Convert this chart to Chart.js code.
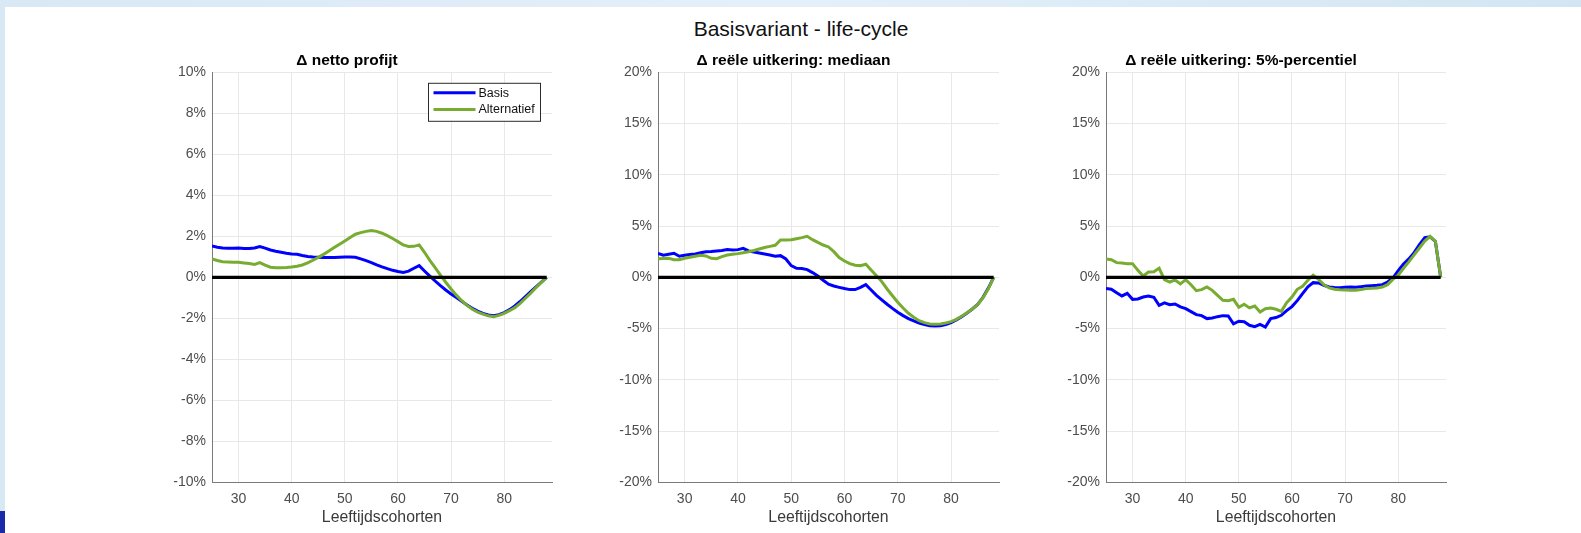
<!DOCTYPE html>
<html>
<head>
<meta charset="utf-8">
<script src="https://cdn.jsdelivr.net/npm/chart.js@4.4.1/dist/chart.umd.min.js"></script>
<style>
body { margin: 0; width: 1581px; height: 533px; background: #fff; position: relative; overflow: hidden; font-family: "Liberation Sans", Arial, sans-serif; }
#topband { position: absolute; left: 0; top: 0; width: 1581px; height: 7px; background: linear-gradient(90deg, #d9e8f5, #e4f0f9 50%, #d3e5f3); }
#leftband { position: absolute; left: 0; top: 0; width: 5px; height: 511px; background: #d9e8f5; }
#leftdark { position: absolute; left: 0; top: 511px; width: 5px; height: 22px; background: #1a2aa8; }
#title { position: absolute; left: 0; width: 1602px; top: 17px; line-height: 24px; text-align: center; font-size: 21px; color: #111; }
canvas { position: absolute; top: 0; }
</style>
</head>
<body>
<div id="topband"></div>
<div id="leftband"></div>
<div id="leftdark"></div>
<div id="title">Basisvariant - life-cycle</div>
<canvas id="c1"></canvas>
<canvas id="c2"></canvas>
<canvas id="c3"></canvas>
<script>
const ages = [25, 26, 27, 28, 29, 30, 31, 32, 33, 34, 35, 36, 37, 38, 39, 40, 41, 42, 43, 44,
  45, 46, 47, 48, 49, 50, 51, 52, 53, 54, 55, 56, 57, 58, 59, 60, 61, 62, 63, 64,
  65, 66, 67, 68, 69, 70, 71, 72, 73, 74, 75, 76, 77, 78, 79, 80, 81, 82, 83, 84,
  85, 86, 87, 88];

// netto profijt (%)
const profijtBasis = [1.53, 1.47, 1.43, 1.42, 1.42, 1.43, 1.40, 1.41, 1.43, 1.50, 1.42, 1.33, 1.27, 1.22, 1.17, 1.14, 1.12, 1.06, 1.01, 0.99,
  0.98, 0.97, 0.97, 0.97, 0.98, 0.99, 0.99, 0.98, 0.90, 0.81, 0.72, 0.61, 0.51, 0.42, 0.34, 0.28, 0.24, 0.30, 0.44, 0.57,
  0.31, 0.06, -0.18, -0.41, -0.62, -0.81, -0.99, -1.17, -1.35, -1.51, -1.65, -1.76, -1.84, -1.87, -1.82, -1.72, -1.58, -1.40, -1.18, -0.94,
  -0.70, -0.46, -0.23, 0];
const profijtAlt = [0.89, 0.82, 0.76, 0.75, 0.74, 0.73, 0.70, 0.67, 0.63, 0.72, 0.59, 0.49, 0.47, 0.47, 0.48, 0.50, 0.54, 0.60, 0.70, 0.83,
  0.97, 1.12, 1.28, 1.45, 1.61, 1.77, 1.94, 2.10, 2.18, 2.24, 2.28, 2.24, 2.15, 2.03, 1.89, 1.74, 1.58, 1.50, 1.51, 1.58,
  1.22, 0.83, 0.47, 0.11, -0.24, -0.57, -0.87, -1.14, -1.37, -1.56, -1.70, -1.80, -1.88, -1.92, -1.86, -1.76, -1.63, -1.48, -1.27, -1.02,
  -0.77, -0.50, -0.25, 0];

// reele uitkering mediaan (%)
const mediaanBasis = [2.34, 2.15, 2.24, 2.34, 2.05, 2.15, 2.22, 2.28, 2.40, 2.50, 2.52, 2.57, 2.62, 2.70, 2.66, 2.70, 2.83, 2.57, 2.47, 2.37,
  2.28, 2.18, 2.05, 2.11, 1.79, 1.14, 0.88, 0.85, 0.75, 0.46, 0.13, -0.29, -0.68, -0.85, -0.98, -1.10, -1.20, -1.20, -0.98, -0.72,
  -1.24, -1.76, -2.20, -2.63, -3.03, -3.41, -3.74, -4.03, -4.26, -4.46, -4.61, -4.72, -4.75, -4.72, -4.60, -4.42, -4.15, -3.84, -3.48, -3.09,
  -2.65, -1.95, -1.05, 0];
const mediaanAlt = [1.82, 1.84, 1.85, 1.72, 1.72, 1.85, 1.95, 2.05, 2.15, 2.08, 1.85, 1.82, 2.02, 2.18, 2.25, 2.31, 2.40, 2.50, 2.62, 2.76,
  2.90, 3.02, 3.12, 3.64, 3.65, 3.67, 3.77, 3.87, 4.00, 3.67, 3.40, 3.15, 2.96, 2.50, 1.92, 1.59, 1.33, 1.17, 1.14, 1.27,
  0.72, 0.16, -0.42, -1.14, -1.80, -2.44, -3.00, -3.51, -3.90, -4.23, -4.42, -4.55, -4.58, -4.55, -4.46, -4.33, -4.10, -3.80, -3.46, -3.09,
  -2.65, -2.00, -1.12, 0];

// reele uitkering 5%-percentiel (%)
const p5Basis = [-1.10, -1.17, -1.50, -1.82, -1.56, -2.15, -2.11, -1.92, -1.82, -1.95, -2.73, -2.50, -2.67, -2.60, -2.89, -3.06, -3.35, -3.64, -3.74, -4.03,
  -3.97, -3.84, -3.74, -3.77, -4.55, -4.29, -4.33, -4.68, -4.81, -4.59, -4.85, -4.03, -3.93, -3.71, -3.25, -2.86, -2.28, -1.59, -0.94, -0.52,
  -0.55, -0.78, -0.94, -1.00, -1.02, -0.98, -0.95, -0.98, -0.92, -0.85, -0.82, -0.78, -0.72, -0.46, -0.07, 0.65, 1.30, 1.79, 2.41, 3.20,
  3.87, 3.95, 3.50, 0];
const p5Alt = [1.79, 1.72, 1.43, 1.40, 1.33, 1.33, 0.68, 0.13, 0.52, 0.55, 0.88, -0.23, -0.46, -0.26, -0.65, -0.23, -0.72, -1.30, -1.20, -0.94,
  -1.27, -1.76, -2.24, -2.28, -2.15, -2.93, -2.63, -2.99, -2.80, -3.38, -3.06, -2.99, -3.12, -3.32, -2.47, -1.92, -1.17, -0.88, -0.29, 0.20,
  -0.20, -0.72, -1.04, -1.17, -1.22, -1.24, -1.26, -1.27, -1.20, -1.10, -1.08, -1.04, -0.95, -0.72, -0.20, 0.20, 0.88, 1.50, 2.18, 2.86,
  3.54, 4.00, 3.51, 0];

const zeroX = [25, 88];
const xTicks = [30, 40, 50, 60, 70, 80];
const yTicksProfijt = [-10, -8, -6, -4, -2, 0, 2, 4, 6, 8, 10];
const yTicksUitkering = [-20, -15, -10, -5, 0, 5, 10, 15, 20];

const BLUE = '#0000ff';
const GREEN = '#77ac30';
const FONT = '"Liberation Sans", Arial, sans-serif';

const PLOT_TOP = 72.3;
const PLOT_BOTTOM = 482.3;
const H = 533;
const YAXIS_W = 70;
const PAD_R = 12;

// legend box like the matlab one, top right inside the plot
const boxLegend = {
  id: 'boxLegend',
  afterDatasetsDraw(chart, args, opts) {
    if (!opts.show) return;
    const ctx = chart.ctx;
    const area = chart.chartArea;
    const w = 112, h = 38;
    const x = area.right - 12 - w;
    const y = area.top + 10.5;
    ctx.save();
    ctx.fillStyle = '#fff';
    ctx.fillRect(x, y, w, h);
    ctx.strokeStyle = '#2b2b2b';
    ctx.lineWidth = 1;
    ctx.strokeRect(x + 0.5, y + 0.5, w, h);
    const items = [chart.data.datasets[2], chart.data.datasets[1]];
    items.forEach((ds, i) => {
      const ly = y + 10 + i * 16.6;
      ctx.strokeStyle = ds.borderColor;
      ctx.lineWidth = 3;
      ctx.beginPath();
      ctx.moveTo(x + 5.5, ly);
      ctx.lineTo(x + 47.5, ly);
      ctx.stroke();
      ctx.fillStyle = '#111';
      ctx.font = '12.5px ' + FONT;
      ctx.textBaseline = 'middle';
      ctx.fillText(ds.label, x + 50.5, ly + 0.5);
    });
    ctx.restore();
  }
};

function pts(xs, ys) {
  return xs.map((a, i) => ({ x: a, y: ys[i] }));
}

function makePanel(id, plotLeft, plotWidth, title, basis, alt, yTicks, showLegend) {
  const canvas = document.getElementById(id);
  const cw = YAXIS_W + plotWidth + PAD_R;
  canvas.width = cw;
  canvas.height = H;
  canvas.style.left = (plotLeft - YAXIS_W) + 'px';
  canvas.style.width = cw + 'px';
  canvas.style.height = H + 'px';

  new Chart(canvas.getContext('2d'), {
    type: 'line',
    data: {
      datasets: [
        { label: 'nul', data: pts(zeroX, [0, 0]), borderColor: '#000', borderWidth: 3.2, pointRadius: 0, fill: false },
        { label: 'Alternatief', data: pts(ages, alt), borderColor: GREEN, borderWidth: 3, pointRadius: 0, tension: 0, fill: false },
        { label: 'Basis', data: pts(ages, basis), borderColor: BLUE, borderWidth: 3, pointRadius: 0, tension: 0, fill: false }
      ]
    },
    options: {
      responsive: false,
      animation: false,
      devicePixelRatio: 1,
      layout: { padding: { left: 0, right: PAD_R, top: 0, bottom: 0 } },
      plugins: {
        legend: { display: false },
        tooltip: { enabled: false },
        title: {
          display: true,
          text: '\u0394 ' + title,
          color: '#000',
          font: { family: FONT, size: 15.5, weight: 'bold', lineHeight: 1.2 },
          padding: { top: 51, bottom: PLOT_TOP - 51 - 18.6 }
        },
        boxLegend: { show: showLegend }
      },
      scales: {
        x: {
          type: 'linear',
          min: 25,
          max: 89,
          afterBuildTicks: s => { s.ticks = xTicks.map(v => ({ value: v })); },
          afterFit: s => { s.height = H - PLOT_BOTTOM; },
          grid: { color: '#e8e8e8', lineWidth: 1, drawTicks: false },
          border: { color: '#7a7a7a', width: 1 },
          ticks: { color: '#4d4d4d', padding: 8.5, font: { family: FONT, size: 14 } },
          title: {
            display: true,
            text: 'Leeftijdscohorten',
            color: '#3a3a3a',
            font: { family: FONT, size: 15.8, lineHeight: 1.2 },
            padding: { top: 0, bottom: 5.5 }
          }
        },
        y: {
          min: yTicks[0],
          max: yTicks[yTicks.length - 1],
          afterBuildTicks: s => { s.ticks = yTicks.map(v => ({ value: v })); },
          afterFit: s => { s.width = YAXIS_W; },
          grid: { color: '#e8e8e8', lineWidth: 1, drawTicks: false },
          border: { color: '#7a7a7a', width: 1 },
          ticks: {
            color: '#4d4d4d',
            padding: 6,
            font: { family: FONT, size: 14 },
            callback: v => v + '%'
          }
        }
      }
    },
    plugins: [boxLegend]
  });
}

makePanel('c1', 212, 340, 'netto profijt', profijtBasis, profijtAlt, yTicksProfijt, true);
makePanel('c2', 658, 341, 're\u00eble uitkering: mediaan', mediaanBasis, mediaanAlt, yTicksUitkering, false);
makePanel('c3', 1106, 340, 're\u00eble uitkering: 5%-percentiel', p5Basis, p5Alt, yTicksUitkering, false);
</script>
</body>
</html>
